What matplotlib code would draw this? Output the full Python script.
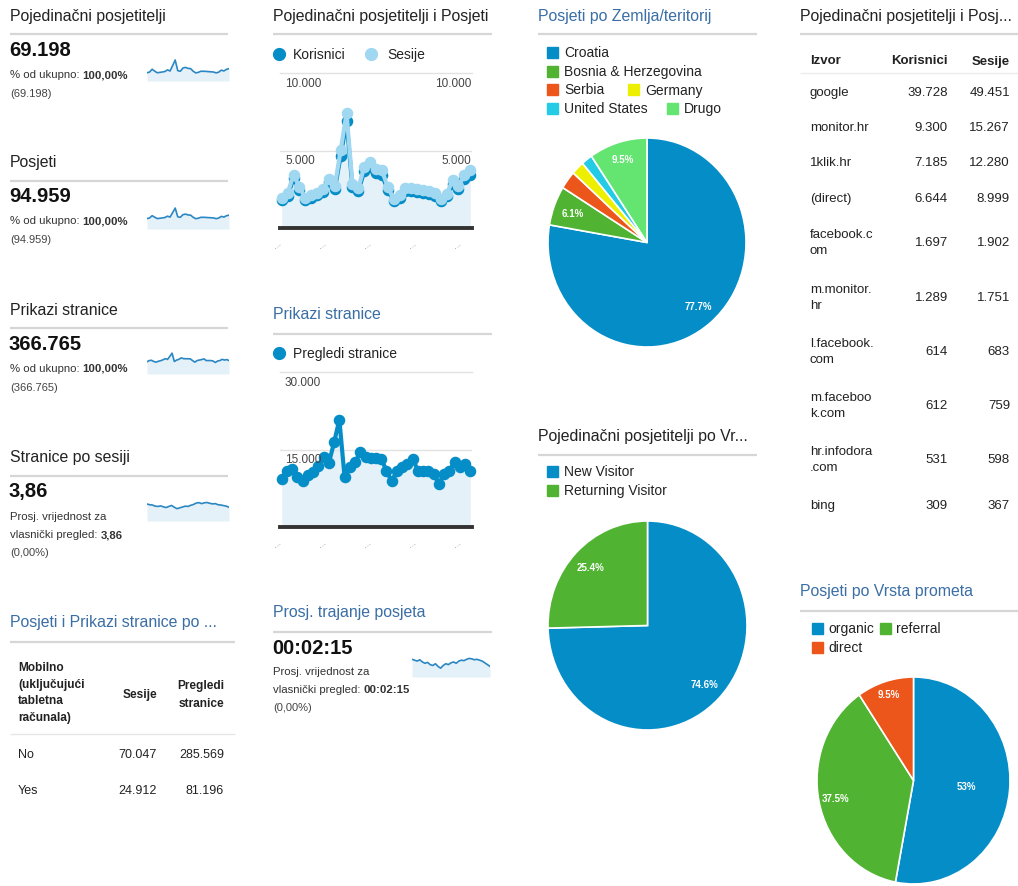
import numpy as np
import matplotlib
matplotlib.use("Agg")
import matplotlib.pyplot as plt
from matplotlib.patches import Rectangle

plt.rcParams['font.family'] = ['Liberation Sans', 'DejaVu Sans']

W, H = 1018, 887

# ---------------- data ----------------
sesije_dnevno = [1930, 2250, 3440, 2640, 1930, 2100, 2270, 2490, 3180, 2710, 5020,
                 7400, 2860, 2580, 3940, 4260, 3830, 3720, 2640, 1880, 2100, 2580,
                 2580, 2530, 2420, 2360, 2250, 1880, 2210, 3070, 2710, 3400, 3720]
korisnici_dnevno = [1780, 2090, 3200, 2450, 1790, 1950, 2100, 2300, 2950, 2500, 4650,
                    6900, 2650, 2390, 3650, 3950, 3550, 3450, 2450, 1740, 1950, 2390,
                    2390, 2350, 2240, 2180, 2080, 1740, 2050, 2850, 2510, 3150, 3450]
pregledi_dnevno = [9330, 10930, 11260, 9650, 8810, 9970, 10740, 11900, 13510, 12410,
                   16400, 20780, 9650, 11580, 12540, 14480, 13510, 13320, 13320, 13190,
                   10930, 8810, 10930, 11580, 12220, 13190, 10930, 10930, 10930, 10290,
                   8360, 10290, 10930, 12540, 11580, 12220, 10930]
stranice_po_sesiji_dnevno = [3.95, 3.90, 3.88, 3.80, 3.78, 3.82, 3.75, 3.70, 3.78, 3.85,
                             3.72, 3.62, 3.68, 3.74, 3.80, 3.78, 3.86, 3.92, 4.02, 4.05,
                             3.98, 4.04, 4.06, 4.00, 3.96, 3.98, 3.90, 3.88, 3.84, 3.80, 3.72]
trajanje_dnevno_s = [140, 138, 136, 139, 134, 131, 133, 128, 126, 130, 124, 120, 126, 130,
                     128, 132, 134, 131, 136, 138, 137, 140, 142, 141, 139, 140, 138, 136,
                     132, 128, 124]

kpi_korisnici = 69198
kpi_posjeti = 94959
kpi_prikazi = 366765
kpi_str_po_sesiji = "3,86"
kpi_trajanje = "00:02:15"

zemlje = ['Croatia', 'Bosnia & Herzegovina', 'Serbia', 'Germany', 'United States', 'Drugo']
zemlje_pct = [77.7, 6.1, 2.8, 2.1, 1.8, 9.5]
posjetitelji = ['New Visitor', 'Returning Visitor']
posjetitelji_pct = [74.6, 25.4]
promet = ['organic', 'referral', 'direct']
promet_pct = [53.0, 37.5, 9.5]

izvori = ['google', 'monitor.hr', '1klik.hr', '(direct)', 'facebook.c\nom', 'm.monitor.\nhr',
          'l.facebook.\ncom', 'm.faceboo\nk.com', 'hr.infodora\n.com', 'bing']
izvori_korisnici = [39728, 9300, 7185, 6644, 1697, 1289, 614, 612, 531, 309]
izvori_sesije = [49451, 15267, 12280, 8999, 1902, 1751, 683, 759, 598, 367]

mobilno = ['No', 'Yes']
mobilno_sesije = [70047, 24912]
mobilno_pregledi = [285569, 81196]

# ---------------- style ----------------
GA = ['#058DC7', '#50B432', '#ED561B', '#EDEF00', '#24CBE5', '#64E572']
DARKBLUE = '#058dc7'
LIGHTBLUE = '#a0d8f1'
FILL = '#e4f1f9'
TITLE_BLUE = '#3a6ea5'
TXT = '#222222'
SEP = '#d6d6d6'


def fmt(v):
    return f"{v:,}".replace(',', '.')


fig = plt.figure(figsize=(W / 100, H / 100), dpi=100)
fig.patch.set_facecolor('white')


def box(x0, y0, w, h):
    return fig.add_axes([x0 / W, 1 - (y0 + h) / H, w / W, h / H])


def sparkline(x0, y0, w, h, vals, ylo, yhi):
    ax = box(x0, y0, w, h)
    x = np.arange(len(vals))
    ax.fill_between(x, vals, ylo, color=FILL, lw=0)
    ax.plot(x, vals, color='#2b87c3', lw=1.2)
    ax.set_xlim(0, len(vals) - 1)
    ax.set_ylim(ylo, yhi)
    ax.axis('off')


# sparklines
sparkline(147, 59, 82, 23, korisnici_dnevno, -1500, 7700)
sparkline(147, 206, 82, 24, sesije_dnevno, -3500, 9000)
sparkline(147, 351, 82, 24, pregledi_dnevno, -7000, 25000)
sparkline(147, 500, 82, 22, stranice_po_sesiji_dnevno, 2.74, 4.31)
sparkline(412, 655, 78, 23, trajanje_dnevno_s, 100, 152)


def ts_chart(x0, y0, w, h, series, colors, ymax):
    ax = box(x0, y0, w, h)
    n = len(series[0])
    x = np.arange(n)
    ax.fill_between(x, series[-1], 0, color=FILL, lw=0)
    ax.axhline(ymax / 2, color='#e2e2e2', lw=1, zorder=1)
    ax.axhline(ymax, color='#e2e2e2', lw=1, zorder=1, clip_on=False)
    for s, c in zip(series, colors):
        ax.plot(x, s, color=c, lw=3.0, marker='o', ms=7.3, mec=c, mfc=c,
                zorder=3, clip_on=False)
    ax.axhline(0, color='#333333', lw=2.8, zorder=4, clip_on=False)
    pad = 0.3 * (n - 1) / 32
    ax.set_xlim(-pad, n - 1 + pad)
    ax.set_ylim(0, ymax)
    ax.axis('off')
    return ax


ts_chart(280, 74, 192, 155, [korisnici_dnevno, sesije_dnevno], [DARKBLUE, LIGHTBLUE], 10000)
ts_chart(280, 373, 192, 155, [pregledi_dnevno], [DARKBLUE], 30000)


def pie(x0, y0, w, h, vals, dists):
    ax = box(x0, y0, w, h)
    wedges, _ = ax.pie(vals, colors=GA[:len(vals)], startangle=90, counterclock=False,
                       wedgeprops=dict(edgecolor='white', linewidth=1.2))
    ax.set_aspect('auto')
    ax.set_xlim(-1, 1)
    ax.set_ylim(-1, 1)
    for wd, v, d in zip(wedges, vals, dists):
        if v < 5:
            continue
        a = np.deg2rad((wd.theta1 + wd.theta2) / 2)
        ax.text(d * np.cos(a), d * np.sin(a), f"{v:g}%", color='white', fontsize=7,
                fontweight='bold', ha='center', va='center')
    ax.axis('off')


pie(548, 139, 198, 209, zemlje_pct, [0.8, 0.8, 0.8, 0.8, 0.8, 0.84])
pie(548, 522, 199, 209, posjetitelji_pct, [0.8, 0.8])
pie(817, 678, 193, 207, promet_pct, [0.55, 0.83, 0.87])

# ---------------- overlay for text ----------------
ax0 = fig.add_axes([0, 0, 1, 1])
ax0.set_xlim(0, W)
ax0.set_ylim(H, 0)
ax0.axis('off')
renderer = fig.canvas.get_renderer()


def T(x, y, s, size=10, color=TXT, weight='normal', ha='left', va='center', **kw):
    return ax0.text(x, y, s, fontsize=size, color=color, fontweight=weight, ha=ha, va=va, **kw)


def rich(x, y, parts, size=8, color='#333333'):
    for s, wt in parts:
        t = T(x, y, s, size=size, color=color, weight=wt)
        bb = t.get_window_extent(renderer)
        x += bb.width


def sep(x0, x1, y, color=SEP, lw=1.6):
    ax0.plot([x0, x1], [y, y], color=color, lw=lw, solid_capstyle='butt')


# ---- column 1: KPIs ----
kpis = [
    ('Pojedinačni posjetitelji', fmt(kpi_korisnici), 16.7, 'pct'),
    ('Posjeti', fmt(kpi_posjeti), 163, 'pct'),
    ('Prikazi stranice', fmt(kpi_prikazi), 310.5, 'pct'),
    ('Stranice po sesiji', kpi_str_po_sesiji, 458, 'avg'),
]
for title, val, y, kind in kpis:
    T(10, y, title, size=11.4)
    sep(10, 228, y + 18.5)
    T(9, y + 34, val, size=14.5, weight='bold', color='#111111')
    if kind == 'pct':
        rich(10, y + 58.5, [('% od ukupno: ', 'normal'), ('100,00%', 'bold')], size=8.2)
        T(10, y + 77.5, f"({val})", size=8, color='#444444')
    else:
        T(10, y + 59.5, 'Prosj. vrijednost za', size=8.2, color='#333333')
        rich(10, y + 77.5, [('vlasnički pregled: ', 'normal'), (val, 'bold')], size=8.2)
        T(10, y + 95, '(0,00%)', size=8, color='#444444')

# ---- column 1: mobile table ----
T(10, 623, 'Posjeti i Prikazi stranice po ...', size=11.4, color=TITLE_BLUE)
sep(10, 235, 643)
for i, line in enumerate(['Mobilno', '(uključujući', 'tabletna', 'računala)']):
    T(18, 668 + i * 16.7, line, size=8.6, weight='bold')
T(157, 695, 'Sesije', size=8.6, weight='bold', ha='right')
T(224, 686.5, 'Pregledi', size=8.6, weight='bold', ha='right')
T(224, 704, 'stranice', size=8.6, weight='bold', ha='right')
sep(10, 235, 735, color='#e6e6e6', lw=1)
for i, (lab, s, p) in enumerate(zip(mobilno, mobilno_sesije, mobilno_pregledi)):
    y = 755 + i * 36.5
    T(18, y, lab, size=9)
    T(157, y, fmt(s), size=9, ha='right')
    T(224, y, fmt(p), size=9, ha='right')

# ---- column 2 ----
T(273, 16.7, 'Pojedinačni posjetitelji i Posjeti', size=11.4)
sep(273, 492, 35)
ax0.plot([279.5], [55], 'o', ms=8.5, color=DARKBLUE)
T(293, 55, 'Korisnici', size=10)
ax0.plot([371.5], [55], 'o', ms=8.5, color=LIGHTBLUE)
T(387, 55, 'Sesije', size=10)
for lab, y in [('10.000', 84), ('5.000', 161)]:
    T(285, y, lab, size=8.5, color='#444444')
    T(471, y, lab, size=8.5, color='#444444', ha='right')
for xx in [277, 322, 367, 412, 457]:
    T(xx, 245, '…', size=6, color='#888888', rotation=35, ha='center')

T(273, 315, 'Prikazi stranice', size=11.4, color=TITLE_BLUE)
sep(273, 492, 335)
ax0.plot([279.5], [354], 'o', ms=8.5, color=DARKBLUE)
T(293, 354, 'Pregledi stranice', size=10)
T(285, 383, '30.000', size=8.5, color='#444444')
T(285, 460, '15.000', size=8.5, color='#444444')
for xx in [277, 322, 367, 412, 457]:
    T(xx, 544, '…', size=6, color='#888888', rotation=35, ha='center')

T(273, 613, 'Prosj. trajanje posjeta', size=11.4, color=TITLE_BLUE)
sep(273, 492, 633)
T(272, 649, kpi_trajanje, size=14.5, weight='bold', color='#111111')
T(273, 672, 'Prosj. vrijednost za', size=8.2, color='#333333')
rich(273, 690, [('vlasnički pregled: ', 'normal'), (kpi_trajanje, 'bold')], size=8.2)
T(273, 708, '(0,00%)', size=8, color='#444444')

# ---- column 3 ----
T(538, 16.7, 'Posjeti po Zemlja/teritorij', size=11.4, color=TITLE_BLUE)
sep(538, 757, 35)
leg_pos = [(547, 53), (547, 72), (547, 90.5), (628, 90.5), (547, 109), (667, 109)]
for (lx, ly), lab, c in zip(leg_pos, zemlje, GA):
    ax0.add_patch(Rectangle((lx, ly - 5.5), 11, 11, color=c))
    T(lx + 17, ly, lab, size=10)

T(538, 437, 'Pojedinačni posjetitelji po Vr...', size=11.4)
sep(538, 757, 456)
for i, (lab, c) in enumerate(zip(posjetitelji, GA)):
    ly = 472.5 + i * 19
    ax0.add_patch(Rectangle((547, ly - 5.5), 11, 11, color=c))
    T(564, ly, lab, size=10)

# ---- column 4 ----
T(800, 16.7, 'Pojedinačni posjetitelji i Posj...', size=11.4)
sep(800, 1018, 35)
T(810, 61.5, 'Izvor', size=9.5, weight='bold')
T(948, 61.5, 'Korisnici', size=9.5, weight='bold', ha='right')
T(1010, 61.5, 'Sesije', size=9.5, weight='bold', ha='right')
sep(800, 1018, 74, color='#ececec', lw=1)
row_y = [93, 128, 163, 199, 243, 298, 352, 406, 460, 506]
for y, lab, k, s in zip(row_y, izvori, izvori_korisnici, izvori_sesije):
    T(810, y, lab, size=9.5, linespacing=1.45)
    T(948, y, fmt(k), size=9.5, ha='right')
    T(1010, y, fmt(s), size=9.5, ha='right')

T(800, 592, 'Posjeti po Vrsta prometa', size=11.4, color=TITLE_BLUE)
sep(800, 1018, 612)
leg3 = [(812, 629.5), (880, 629.5), (812, 648)]
for (lx, ly), lab, c in zip(leg3, promet, GA):
    ax0.add_patch(Rectangle((lx, ly - 5.5), 11, 11, color=c))
    T(lx + 16, ly, lab, size=10)

fig.savefig('out.png', dpi=100, facecolor='white')
